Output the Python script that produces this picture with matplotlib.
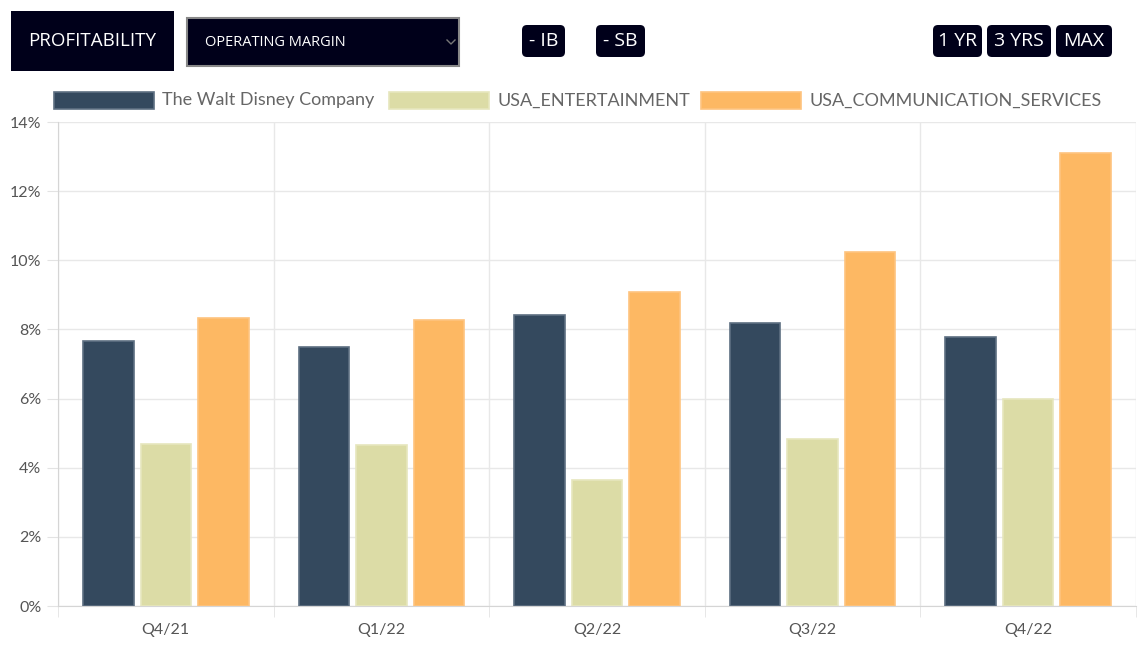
import numpy as np
import matplotlib.pyplot as plt
from matplotlib.patches import FancyBboxPatch, Rectangle

quarters = ['Q4/21', 'Q1/22', 'Q2/22', 'Q3/22', 'Q4/22']
disney = [7.67, 7.49, 8.42, 8.19, 7.78]
entertainment = [4.69, 4.66, 3.64, 4.83, 5.99]
comm_services = [8.33, 8.27, 9.08, 10.24, 13.10]
series_names = ['The Walt Disney Company', 'USA_ENTERTAINMENT', 'USA_COMMUNICATION_SERVICES']
y_ticks = [0, 2, 4, 6, 8, 10, 12, 14]

fills = ['#34495e', '#dcdca6', '#fdb863']
edges = ['#5d6f82', '#e6e6be', '#fec47f']

W, H = 1138, 653
fig = plt.figure(figsize=(W / 100, H / 100), dpi=100)
plt.rcParams['font.family'] = ['Lato', 'DejaVu Sans']

# chart area
ax = fig.add_axes([58 / W, 1 - 606 / H, (1136 - 58) / W, (606 - 122) / H])
x = np.arange(len(quarters))
slot = 0.8 / 3
for i, vals in enumerate([disney, entertainment, comm_services]):
    ax.bar(x + (i - 1) * slot, vals, width=slot * 0.88, color=fills[i],
           edgecolor=edges[i], linewidth=1.2, zorder=3)

ax.set_xlim(-0.5, len(quarters) - 0.5)
ax.set_ylim(0, 14)
ax.set_yticks(y_ticks)
ax.set_yticklabels([f'{v}%' for v in y_ticks])
ax.set_xticks(x)
ax.set_xticklabels(quarters)
ax.set_xticks(np.arange(len(quarters) + 1) - 0.5, minor=True)
ax.tick_params(axis='y', length=8, color='#e3e3e3', labelsize=11.5, labelcolor='#555555', pad=4)
ax.tick_params(axis='x', which='major', length=0, labelsize=11.5, labelcolor='#555555', pad=12)
ax.tick_params(axis='x', which='minor', length=8, color='#e3e3e3')
ax.grid(axis='y', color='#e8e8e8', linewidth=1, zorder=0)
ax.grid(axis='x', which='minor', color='#e8e8e8', linewidth=1, zorder=0)
for side in ['top', 'right']:
    ax.spines[side].set_visible(False)
for side in ['left', 'bottom']:
    ax.spines[side].set_color('#d5d5d5')

# overlay in pixel coordinates for header and legend
ov = fig.add_axes([0, 0, 1, 1], zorder=-1)
ov.set_xlim(0, W)
ov.set_ylim(H, 0)
ov.axis('off')

# legend
legend_x = [(54, 162), (389, 498), (701, 810)]
for (bx, tx), name, fc, ec in zip(legend_x, series_names, fills, edges):
    ov.add_patch(Rectangle((bx, 92), 100, 17, facecolor=fc, edgecolor=ec, linewidth=1.2))
    ov.text(tx, 100.5, name, fontsize=13, color='#666666', va='center', ha='left')

# header
dark = '#00001a'
hdr_font = ['Open Sans', 'DejaVu Sans']
ov.add_patch(Rectangle((11, 11), 163, 60, facecolor=dark, edgecolor='none'))
ov.text(92.5, 41, 'PROFITABILITY', fontsize=13.5, color='white', ha='center', va='center',
        family=hdr_font, fontweight='medium')
ov.add_patch(Rectangle((187, 18), 272, 48, facecolor=dark, edgecolor='#888888', linewidth=1.5))
ov.text(205, 42, 'OPERATING MARGIN', fontsize=10.5, color='white', ha='left', va='center',
        family=hdr_font, fontweight='medium')
ov.plot([447, 451, 455], [40, 44, 40], color='#777777', linewidth=1)

buttons = [('- IB', 522, 565), ('- SB', 596, 645), ('1 YR', 933, 982),
           ('3 YRS', 987, 1051), ('MAX', 1056, 1112)]
for label, x0, x1 in buttons:
    ov.add_patch(FancyBboxPatch((x0 + 4, 29), x1 - x0 - 8, 24,
                                boxstyle='round,pad=4,rounding_size=5',
                                facecolor=dark, edgecolor='none'))
    ov.text((x0 + x1) / 2, 41, label, fontsize=14, color='white', ha='center', va='center',
            family=hdr_font, fontweight='medium')

fig.savefig('out.png', dpi=100)
